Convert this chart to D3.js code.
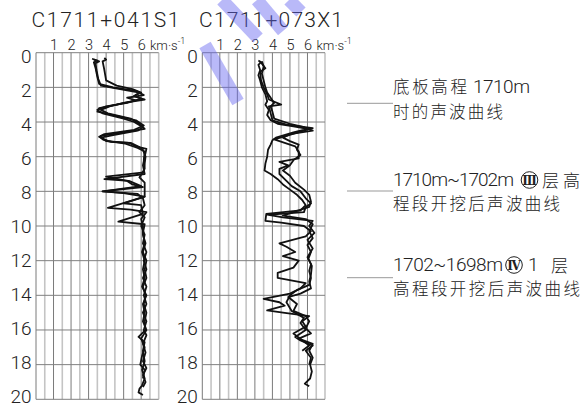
<!DOCTYPE html>
<html>
<head>
<meta charset="utf-8">
<script src="https://cdn.jsdelivr.net/npm/d3@7"></script>
<style>
  html, body { margin: 0; padding: 0; background: #fff; }
  svg { display: block; }
  .lat { font-family: Roboto, "DejaVu Sans", sans-serif; font-weight: 300; fill: #222; }
  .cjk { font-family: "Noto Sans CJK SC", sans-serif; font-weight: 300; fill: #222; }
</style>
</head>
<body>
<script>
// Borehole sonic logs: P-wave velocity (km/s) against hole depth (m)
const boreholes = ["C1711+041S1", "C1711+073X1"];
const velocityTicks = [1, 2, 3, 4, 5, 6];
const depthTicks = [0, 2, 4, 6, 8, 10, 12, 14, 16, 18, 20];

// Hole C1711+041S1 — three measurement stages, [depth m, velocity km/s]
const holeS1_stage1 = [
  [0.35,3.2],[0.45,3.5],[0.55,3.3],[0.9,3.4],[1.4,3.5],[1.8,3.6],[2.0,4.4],[2.2,5.7],[2.45,6.15],
  [2.6,5.2],[2.75,5.7],[3.0,4.6],[3.2,3.6],[3.4,3.5],[3.6,4.4],[3.9,5.7],[4.2,6.15],[4.45,5.6],
  [4.7,3.9],[4.85,3.6],[5.1,4.0],[5.2,5.3],[5.4,5.7],[5.55,6.3],[6.0,6.2],[6.5,6.1],[7.0,6.2],
  [7.3,3.9],[7.4,5.3],[7.7,6.0],[8.0,3.8],[8.1,5.0],[8.3,6.2],[8.95,4.1],[9.05,5.4],[9.2,6.3],
  [9.6,6.0],[10.0,6.1],[10.5,6.1],[11.0,6.25],[11.5,6.1],[12.0,6.3],[12.5,6.2],[13.0,6.3],
  [13.5,6.1],[14.0,6.25],[14.5,6.15],[15.0,6.3],[15.5,6.2],[16.0,6.25],[16.4,5.85],[16.7,6.2],
  [17.2,6.1],[17.8,6.2],[18.3,6.05],[18.8,6.2],[19.2,6.05],[19.4,5.9],[19.6,5.85],[19.75,6.1]
];
const holeS1_stage2 = [
  [0.3,3.9],[0.4,4.0],[0.5,3.8],[1.0,3.9],[1.6,4.0],[1.9,4.6],[2.1,5.5],[2.3,6.0],[2.5,5.6],
  [2.7,6.2],[2.9,5.0],[3.1,4.2],[3.3,3.7],[3.5,4.1],[3.8,5.4],[4.1,5.9],[4.4,6.2],[4.6,5.0],
  [4.8,3.7],[5.0,3.8],[5.15,4.3],[5.2,5.4],[5.45,5.9],[5.6,6.1],[6.0,6.25],[6.4,6.2],[6.9,6.15],
  [7.15,4.0],[7.4,5.2],[7.6,5.5],[7.75,6.1],[8.0,3.8],[8.15,5.8],[8.4,6.1],[8.8,6.2],[9.2,5.9],
  [9.5,6.2],[10.0,6.0],[10.5,6.2],[11.0,6.1],[11.5,6.3],[12.0,6.15],[12.5,6.3],[13.0,6.1],
  [13.5,6.3],[14.0,6.15],[14.5,6.3],[15.0,6.1],[15.5,6.3],[16.0,6.15],[16.3,6.3],[16.8,6.1],
  [17.3,6.25],[17.8,6.1],[18.2,6.3],[18.6,6.1],[19.0,6.25],[19.3,6.1]
];
const holeS1_stage3 = [
  [0.4,3.3],[0.5,3.6],[0.6,3.4],[1.0,3.45],[1.5,3.55],[1.9,3.7],[2.1,4.8],[2.3,5.9],[2.5,5.6],
  [2.65,6.0],[2.9,5.2],[3.1,4.0],[3.3,3.5],[3.5,3.8],[3.8,5.0],[4.0,5.6],[4.3,6.1],[4.5,5.8],
  [4.75,4.4],[4.9,3.7],[5.1,4.1],[5.25,5.1],[5.5,5.8],[5.7,6.2],[6.2,6.15],[6.7,6.2],[7.2,5.9],
  [7.5,6.2],[8.3,6.2],[8.7,5.0],[8.8,6.0],[9.3,6.1],[9.75,4.7],[9.9,6.2],[10.4,6.1],[11.0,6.2],
  [11.5,6.05],[12.0,6.2],[12.5,6.1],[13.0,6.2],[13.5,6.05],[14.0,6.3],[14.5,6.1],[15.0,6.2],
  [15.5,6.1],[16.0,6.3],[16.5,6.0],[17.0,6.2],[17.5,6.05],[18.0,5.95],[18.3,6.2],[18.8,6.1]
];

// Hole C1711+073X1 — three measurement stages, [depth m, velocity km/s]
const holeX1_stage1 = [
  [0.45,3.2],[0.55,3.35],[0.7,3.2],[1.0,3.3],[1.3,3.2],[1.6,3.3],[2.0,3.4],[2.4,3.6],[2.8,3.7],
  [3.0,3.6],[3.3,3.8],[3.6,3.7],[3.9,3.9],[4.1,4.3],[4.25,5.2],[4.4,6.0],[4.6,5.2],[4.9,4.2],
  [5.05,4.0],[5.3,3.9],[5.6,3.75],[6.0,3.7],[6.4,3.6],[6.8,3.55],[7.0,3.9],[7.3,4.3],[7.6,4.6],
  [7.9,5.0],[8.2,5.4],[8.5,5.7],[8.8,5.9],[9.1,5.6],[9.3,3.65],[9.7,3.6],[9.8,4.5],[10.0,5.8],
  [10.3,6.2],[10.6,5.9],[11.0,4.4],[11.2,4.8],[11.5,5.3],[11.74,4.6],[12.0,5.5],[12.4,5.2],
  [12.7,4.3],[13.0,4.3],[13.3,5.9],[13.6,5.6],[13.9,5.0],[14.2,3.5],[14.4,4.4],[14.6,4.7],
  [14.87,3.7],[15.0,4.6],[15.2,6.1],[15.5,5.7],[15.8,5.9],[16.2,5.2],[16.6,5.7],[16.9,6.1],[17.2,5.7]
];
const holeX1_stage2 = [
  [0.5,3.3],[0.9,3.6],[1.1,3.3],[1.6,3.35],[2.0,3.5],[2.4,3.7],[2.7,3.8],[3.0,4.5],[3.1,3.8],
  [3.5,3.9],[3.9,4.0],[4.15,4.8],[4.35,6.3],[4.55,5.6],[4.8,4.8],[5.0,4.1],[5.2,4.7],[5.4,5.3],
  [5.7,5.5],[6.1,5.5],[6.3,4.4],[6.5,4.9],[6.7,4.4],[7.0,4.4],[7.4,4.8],[7.7,5.1],[8.0,5.6],
  [8.4,5.9],[8.7,6.2],[8.9,5.9],[9.2,5.8],[9.35,3.7],[9.5,4.6],[9.7,6.3],[10.0,6.1],[10.4,6.4],
  [10.8,6.0],[11.3,6.3],[11.8,6.0],[12.2,6.2],[12.6,6.1],[13.0,6.2],[13.4,6.1],[13.7,5.4],
  [14.0,5.0],[14.4,4.8],[14.9,5.1],[15.3,5.8],[15.6,5.6],[16.0,5.9],[16.4,5.3],[16.6,5.6],
  [16.9,6.3],[17.2,5.9],[17.6,6.2],[18.0,6.1]
];
const holeX1_stage3 = [
  [0.5,3.4],[0.8,3.5],[1.2,3.4],[1.6,3.5],[2.0,3.6],[2.3,3.7],[2.6,3.9],[2.9,4.1],[3.1,3.9],
  [3.4,4.0],[3.8,4.1],[4.1,5.0],[4.3,5.8],[4.5,6.3],[4.7,5.0],[4.9,4.6],[5.1,5.0],[5.3,5.5],
  [5.6,5.4],[5.9,5.6],[6.2,5.2],[6.5,5.0],[6.8,4.6],[7.1,5.0],[7.5,5.3],[7.9,5.8],[8.2,6.1],
  [8.6,6.2],[8.9,6.1],[9.1,5.5],[9.4,4.6],[9.6,5.9],[9.9,6.3],[10.3,6.1],[10.7,6.3],[11.1,6.0],
  [11.5,6.2],[11.9,6.05],[12.3,6.25],[12.8,6.2],[13.2,6.1],[13.6,6.2],[13.9,5.6],[14.1,4.9],
  [14.5,5.4],[14.9,5.2],[15.2,5.9],[15.5,6.1],[15.9,5.9],[16.2,6.2],[16.5,5.5],[16.8,6.3],
  [17.2,6.1],[17.6,6.3],[18.0,6.15],[18.4,6.25],[18.8,6.15],[19.1,5.85],[19.25,6.1]
];

// Annotation texts (one block per stage)
const stageNotes = [
  { line1: ["底板高程", "1710m"], line2: "时的声波曲线" },
  { line1: ["1710m~1702m", "Ⅲ", "层高"], line2: "程段开挖后声波曲线" },
  { line1: ["1702~1698m", "Ⅳ", "1", "层"], line2: "高程段开挖后声波曲线" }
];

const W = 584, H = 407;
const svg = d3.select("body").append("svg").attr("width", W).attr("height", H);

const y = d3.scaleLinear().domain([0, 20]).range([52.7, 399.3]);
const panels = [
  { name: boreholes[0], x: d3.scaleLinear().domain([0, 7]).range([36, 158.7]),
    curves: [holeS1_stage1, holeS1_stage2, holeS1_stage3], titleX: 31.5, titleW: 148, kmX: 150 },
  { name: boreholes[1], x: d3.scaleLinear().domain([0, 7]).range([202.3, 325]),
    curves: [holeX1_stage1, holeX1_stage2, holeX1_stage3], titleX: 199, titleW: 144, kmX: 316.5 }
];

const halfSteps = d3.range(0, 7.01, 0.5);

panels.forEach(p => {
  const g = svg.append("g");
  const [x0, x1] = p.x.range();

  // vertical grid every 0.5 km/s
  g.selectAll("line.v").data(halfSteps).join("line")
    .attr("x1", d => p.x(d)).attr("x2", d => p.x(d))
    .attr("y1", y(0)).attr("y2", y(20))
    .attr("stroke", d => (d % 1 === 0 && d < 7) ? "#7a7a7a" : "#c4c4c4")
    .attr("stroke-width", d => (d % 1 === 0 && d < 7) ? 1 : 1.6);

  // horizontal grid every 2 m
  g.selectAll("line.h").data(depthTicks).join("line")
    .attr("x1", x0).attr("x2", x1)
    .attr("y1", d => y(d)).attr("y2", d => y(d))
    .attr("stroke", "#808080").attr("stroke-width", 1);

  // velocity axis along the top
  const ax = g.append("g").attr("transform", `translate(0,${y(0)})`)
    .call(d3.axisTop(p.x).tickValues(velocityTicks).tickFormat(d3.format("d"))
      .tickSize(0).tickPadding(3));
  ax.select(".domain").remove();
  ax.selectAll("text").attr("class", "lat").style("font-size", "14.5px").attr("fill", "#222");

  // km·s⁻¹ unit
  const unit = g.append("text").attr("class", "lat").attr("x", p.kmX).attr("y", y(0) - 3)
    .style("font-size", "13px").text("km·s");
  unit.append("tspan").attr("dy", -6).style("font-size", "9px").text("-1");

  // depth axis on the left
  const ay = g.append("g").attr("transform", `translate(${x0},0)`)
    .call(d3.axisLeft(y).tickValues(depthTicks).tickFormat(d3.format("d"))
      .tickSize(0).tickPadding(4.5));
  ay.select(".domain").remove();
  ay.selectAll("text").attr("class", "lat").style("font-size", "19px").attr("fill", "#222")
    .attr("dy", "0.36em")
    .attr("y", d => (10 - d) * 0.34);

  // title
  g.append("text").attr("class", "lat").attr("x", p.titleX).attr("y", 27)
    .attr("textLength", p.titleW).attr("lengthAdjust", "spacing")
    .style("font-size", "21px").text(p.name);

  // velocity profiles
  const line = d3.line().x(d => p.x(d[1])).y(d => y(d[0]));
  g.selectAll("path.curve").data(p.curves).join("path")
    .attr("d", line).attr("fill", "none").attr("stroke", "#111")
    .attr("stroke-width", 1.8).attr("stroke-linejoin", "round");
});

// stage annotations with leader lines
const noteLayout = [
  { lead: 103.3, b1: 93, b2: 118 },
  { lead: 191, b1: 186, b2: 209.5 },
  { lead: 277.7, b1: 271, b2: 294.5 }
];
const ann = svg.append("g");

function circled(cx, cy, label) {
  ann.append("circle").attr("cx", cx).attr("cy", cy).attr("r", 8.3)
    .attr("fill", "none").attr("stroke", "#222").attr("stroke-width", 1);
  ann.append("text").attr("x", cx).attr("y", cy + 4.5).attr("text-anchor", "middle")
    .style("font-family", "\"DejaVu Serif\", serif").style("font-weight", "bold")
    .style("font-size", "12px").attr("fill", "#222").text(label);
}

noteLayout.forEach((L, i) => {
  const n = stageNotes[i];
  ann.append("line").attr("x1", 347).attr("x2", 393).attr("y1", L.lead).attr("y2", L.lead)
    .attr("stroke", "#999").attr("stroke-width", 1);
  if (i === 0) {
    ann.append("text").attr("class", "cjk").attr("x", 393).attr("y", L.b1)
      .attr("textLength", 74).attr("lengthAdjust", "spacing").style("font-size", "16.5px").text(n.line1[0]);
    ann.append("text").attr("class", "lat").attr("x", 473).attr("y", L.b1)
      .attr("textLength", 57).attr("lengthAdjust", "spacing").style("font-size", "19px").text(n.line1[1]);
    ann.append("text").attr("class", "cjk").attr("x", 393).attr("y", L.b2)
      .attr("textLength", 110).attr("lengthAdjust", "spacing").style("font-size", "16.5px").text(n.line2);
  } else if (i === 1) {
    ann.append("text").attr("class", "lat").attr("x", 393).attr("y", L.b1)
      .attr("textLength", 121).attr("lengthAdjust", "spacing").style("font-size", "19px").text(n.line1[0]);
    circled(529.5, L.b1 - 6, n.line1[1]);
    ann.append("text").attr("class", "cjk").attr("x", 542).attr("y", L.b1 + 0.5)
      .attr("textLength", 38).attr("lengthAdjust", "spacing").style("font-size", "17px").text(n.line1[2]);
    ann.append("text").attr("class", "cjk").attr("x", 393).attr("y", L.b2)
      .attr("textLength", 167).attr("lengthAdjust", "spacing")
      .style("font-size", "16.5px").text(n.line2);
  } else {
    ann.append("text").attr("class", "lat").attr("x", 393).attr("y", L.b1)
      .attr("textLength", 110).attr("lengthAdjust", "spacing").style("font-size", "19px").text(n.line1[0]);
    circled(514, L.b1 - 6, n.line1[1]);
    ann.append("text").attr("class", "lat").attr("x", 528).attr("y", L.b1)
      .style("font-size", "19px").text(n.line1[2]);
    ann.append("text").attr("class", "cjk").attr("x", 551).attr("y", L.b1 + 0.5)
      .style("font-size", "17px").text(n.line1[3]);
    ann.append("text").attr("class", "cjk").attr("x", 393).attr("y", L.b2)
      .attr("textLength", 187).attr("lengthAdjust", "spacing")
      .style("font-size", "16.5px").text(n.line2);
  }
});

// translucent blue stamp strokes across the top
const stamp = [
  [[222, 0], [258, 38]],
  [[205, 45], [238, 102]],
  [[257, 0], [283, 31]],
  [[289, 0], [301, 12]]
];
svg.append("g").selectAll("path").data(stamp).join("path")
  .attr("d", d3.line())
  .attr("stroke", "#6464f0").attr("stroke-opacity", 0.45)
  .attr("stroke-width", 13).attr("fill", "none");
</script>
</body>
</html>
